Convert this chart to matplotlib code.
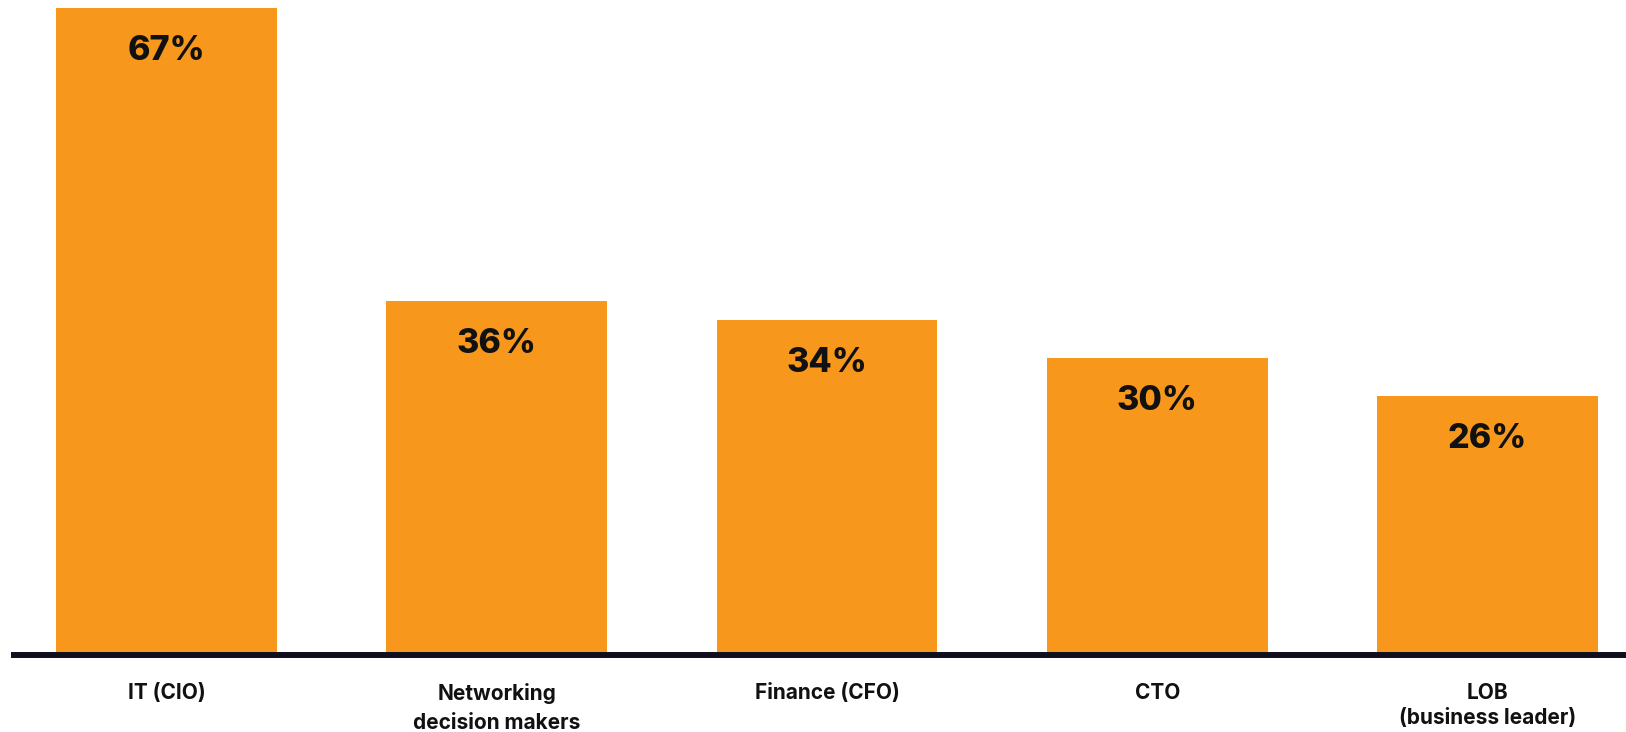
import matplotlib.pyplot as plt
import numpy as np
from matplotlib.lines import Line2D

# data
categories = ["IT (CIO)", "Networking\ndecision makers", "Finance (CFO)", "CTO", "LOB\n(business leader)"]
values = [67, 36, 34, 30, 26]
value_labels = ["67%", "36%", "34%", "30%", "26%"]

bar_color = "#F7981D"
text_color = "#111111"
base = -1.08  # bars start a little below zero, under the axis line

fig = plt.figure(figsize=(16.26, 7.32), dpi=100)
ax = fig.add_axes([0, 80 / 732, 1, 652 / 732])

x = np.arange(len(categories))
heights = np.array(values) - base
ax.bar(x, heights, bottom=base, width=0.669, color=bar_color, edgecolor="none")

ax.set_xlim(-0.5042, 4.4194)
ax.set_ylim(base, 67.84)
ax.axis("off")

# value labels inside bar tops
for xi, v, lab in zip(x, values, value_labels):
    ax.annotate(lab, (xi, v), xytext=(0, -37.4), textcoords="offset points",
                ha="center", va="baseline", fontsize=24.5, fontweight="heavy",
                fontname="Inter", color=text_color)

# thick baseline
fig.add_artist(Line2D([11 / 1626, 1], [77 / 732, 77 / 732], color="#0f0f1e", lw=4.3,
                      solid_capstyle="butt"))

# category labels
spacing = [1.2, 1.6, 1.2, 1.2, 1.35]
for xi, cat, ls in zip(x, categories, spacing):
    ax.annotate(cat, (xi, base), xytext=(0, -22), textcoords="offset points",
                ha="center", va="top", fontsize=15, fontweight="bold",
                fontname="Inter", color=text_color, linespacing=ls,
                annotation_clip=False)

fig.savefig("out.png", dpi=100, facecolor="white")
